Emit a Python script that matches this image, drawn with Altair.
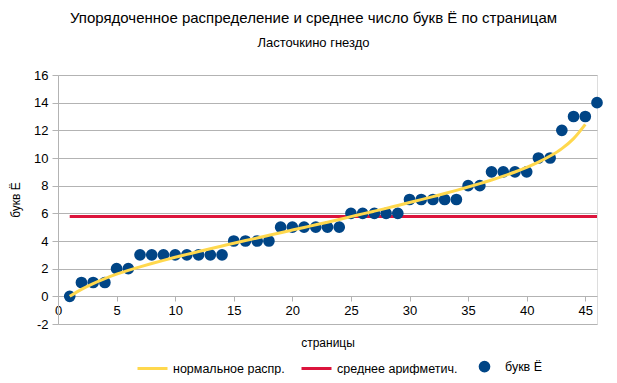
import altair as alt
import pandas as pd

# ---- data ----
pages = list(range(1, 47))
letters = [0, 1, 1, 1, 2, 2, 3, 3, 3, 3, 3, 3, 3, 3, 4, 4, 4, 4, 5, 5,
           5, 5, 5, 5, 6, 6, 6, 6, 6, 7, 7, 7, 7, 7, 8, 8, 9, 9, 9, 9,
           10, 10, 12, 13, 13, 14]

norm_x = list(range(1, 46))
norm_y = [0.00, 0.50, 0.92, 1.28, 1.60, 1.88, 2.13, 2.37, 2.60, 2.82,
          3.03, 3.24, 3.44, 3.64, 3.84, 4.03, 4.22, 4.41, 4.60, 4.79,
          4.98, 5.17, 5.36, 5.56, 5.76, 5.96, 6.16, 6.36, 6.57, 6.78,
          6.99, 7.21, 7.43, 7.66, 7.90, 8.15, 8.41, 8.69, 8.99, 9.32,
          9.70, 10.14, 10.68, 11.40, 12.43]

mean_x = [1, 46]
mean_y = [5.78, 5.78]

series = ["нормальное распр.", "среднее арифметич.", "букв Ё"]
colors = ["#ffd84d", "#dc143c", "#004586"]

x_ticks = [0, 5, 10, 15, 20, 25, 30, 35, 40, 45]
y_ticks = [-2, 0, 2, 4, 6, 8, 10, 12, 14, 16]

FONT = "Liberation Sans"
DOT = "M -0.29 0 A 0.29 0.29 0 1 0 0.29 0 A 0.29 0.29 0 1 0 -0.29 0 Z"
shapes = ["stroke", "stroke", DOT]

df_pts = pd.DataFrame({"x": pages, "y": letters, "s": series[2]})
df_norm = pd.DataFrame({"x": norm_x, "y": norm_y, "s": series[0]})
df_mean = pd.DataFrame({"x": mean_x, "y": mean_y, "s": series[1]})

xscale = alt.Scale(domain=[0, 46], nice=False, zero=False)
yscale = alt.Scale(domain=[-2, 16], nice=False)
cscale = alt.Scale(domain=series, range=colors)

legend = alt.Legend(orient="none", direction="horizontal",
                    legendX=78, legendY=275,
                    labelFont=FONT, labelFontSize=12.5,
                    labelColor="#000000", labelOffset=4,
                    columnPadding=10, symbolStrokeWidth=3,
                    symbolSize=900, symbolFillColor="#004586",
                    title=None)

color = alt.Color("s:N", title=None, scale=cscale, legend=legend)

xaxis = alt.Axis(values=x_ticks, grid=False, offset=-28, domain=False,
                 tickColor="#b3b3b3", tickSize=5, labelPadding=3,
                 labelFlush=False,
                 labelFont=FONT, labelFontSize=13, labelColor="#000000",
                 title="страницы", titleFont=FONT, titleFontSize=12,
                 titleFontWeight="normal", titleColor="#000000",
                 titlePadding=20)
yaxis = alt.Axis(values=y_ticks, grid=True, gridColor="#b3b3b3",
                 domainColor="#b3b3b3", tickColor="#b3b3b3", tickSize=6,
                 labelPadding=4, labelOverlap=False, labelFlush=False,
                 labelExpr="toString(datum.value)",
                 labelFont=FONT, labelFontSize=13, labelColor="#000000",
                 title="букв Ё", titleFont=FONT, titleFontSize=12,
                 titleFontWeight="normal", titleColor="#000000",
                 titlePadding=11)

X = alt.X("x:Q", scale=xscale, axis=xaxis)
Y = alt.Y("y:Q", scale=yscale, axis=yaxis)

mean_line = alt.Chart(df_mean).mark_line(strokeWidth=3).encode(
    x=X, y=Y, color=color)

pts = alt.Chart(df_pts).mark_point(filled=True, opacity=1, size=900,
                                   strokeWidth=3).encode(
    x=X, y=Y,
    color=color,
    stroke=alt.Stroke("s:N", scale=cscale, legend=legend, title=None),
    shape=alt.Shape("s:N", scale=alt.Scale(domain=series, range=shapes),
                    legend=legend, title=None),
)

norm_line = alt.Chart(df_norm).mark_line(strokeWidth=3, interpolate="monotone").encode(
    x=X, y=Y, color=color)

chart = alt.layer(mean_line, pts, norm_line).properties(
    width=539, height=249,
    autosize=alt.AutoSizeParams(type="none"),
    padding={"left": 50, "top": 67, "right": 12, "bottom": 51},
    title=alt.TitleParams(
        text="Упорядоченное распределение и среднее число букв Ё по страницам",
        subtitle="Ласточкино гнездо",
        font=FONT, fontSize=15, fontWeight="normal", color="#000000",
        subtitleFont=FONT, subtitleFontSize=13, subtitleColor="#000000",
        subtitlePadding=11, offset=19, anchor="middle", dx=-14),
).configure_view(stroke="#b3b3b3").configure_axisY(
    labelOverlap=False, tickCount=10
).configure(background="#ffffff")

chart.save("out.html", embed_options={"renderer": "svg", "actions": False})
